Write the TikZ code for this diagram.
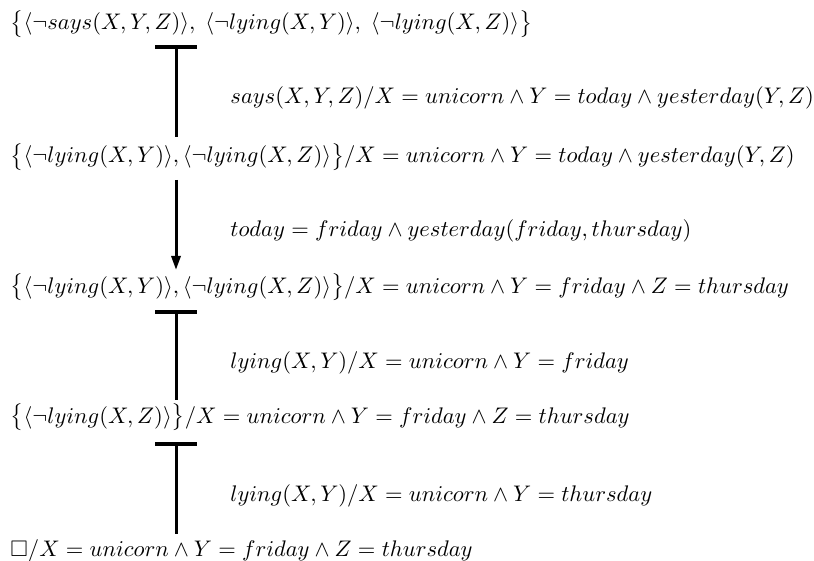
\documentclass[tikz,border=0pt]{standalone}
\usepackage{amsmath,amssymb}
\usetikzlibrary{arrows.meta}
\begin{document}
\begin{tikzpicture}[x=0.5pt,y=-0.5pt,
  lbl/.style={anchor=base west,inner sep=0pt,font=\normalsize,scale=1.127},
  bar/.style={line width=2pt},
  stem/.style={line width=1.5pt},
  arr/.style={line width=1.5pt,-{Triangle[length=7pt,width=4.5pt]}}]
\useasboundingbox (0,0) rectangle (814,561);
\node[lbl] (n1) at (10,30) {$\bigl\{\langle\neg says(X,Y,Z)\rangle,\;\langle\neg lying(X,Y)\rangle,\;\langle\neg lying(X,Z)\rangle\bigr\}$};
\node[lbl] (n2) at (10,163) {$\bigl\{\langle\neg lying(X,Y)\rangle,\langle\neg lying(X,Z)\rangle\bigr\}/X=unicorn\wedge Y=today\wedge yesterday(Y,Z)$};
\node[lbl] (n3) at (10,293) {$\bigl\{\langle\neg lying(X,Y)\rangle,\langle\neg lying(X,Z)\rangle\bigr\}/X=unicorn\wedge Y=friday\wedge Z=thursday$};
\node[lbl] (n4) at (10,423) {$\bigl\{\langle\neg lying(X,Z)\rangle\bigr\}/X=unicorn\wedge Y=friday\wedge Z=thursday$};
\node[lbl] (n5) at (10,556) {$\Box/X=unicorn\wedge Y=friday\wedge Z=thursday$};
\node[lbl] (l1) at (230,104) {$says(X,Y,Z)/X=unicorn\wedge Y=today\wedge yesterday(Y,Z)$};
\node[lbl] (l2) at (230,237) {$today=friday\wedge yesterday(friday,thursday)$};
\node[lbl] (l3) at (230,368) {$lying(X,Y)/X=unicorn\wedge Y=friday$};
\node[lbl] (l4) at (230,501) {$lying(X,Y)/X=unicorn\wedge Y=thursday$};
% connectors
\coordinate (a1) at (176,47);  \coordinate (b1) at (176,137);
\coordinate (a2) at (176,180); \coordinate (b2) at (176,270);
\coordinate (a3) at (176,312); \coordinate (b3) at (176,400);
\coordinate (a4) at (176,444); \coordinate (b4) at (176,534);
\draw[bar] ([xshift=-21*0.5pt]a1) -- ([xshift=21*0.5pt]a1);
\draw[stem] (a1) -- (b1);
\draw[arr] (a2) -- (b2);
\draw[bar] ([xshift=-21*0.5pt]a3) -- ([xshift=21*0.5pt]a3);
\draw[stem] (a3) -- (b3);
\draw[bar] ([xshift=-21*0.5pt]a4) -- ([xshift=21*0.5pt]a4);
\draw[stem] (a4) -- (b4);
\end{tikzpicture}
\end{document}
